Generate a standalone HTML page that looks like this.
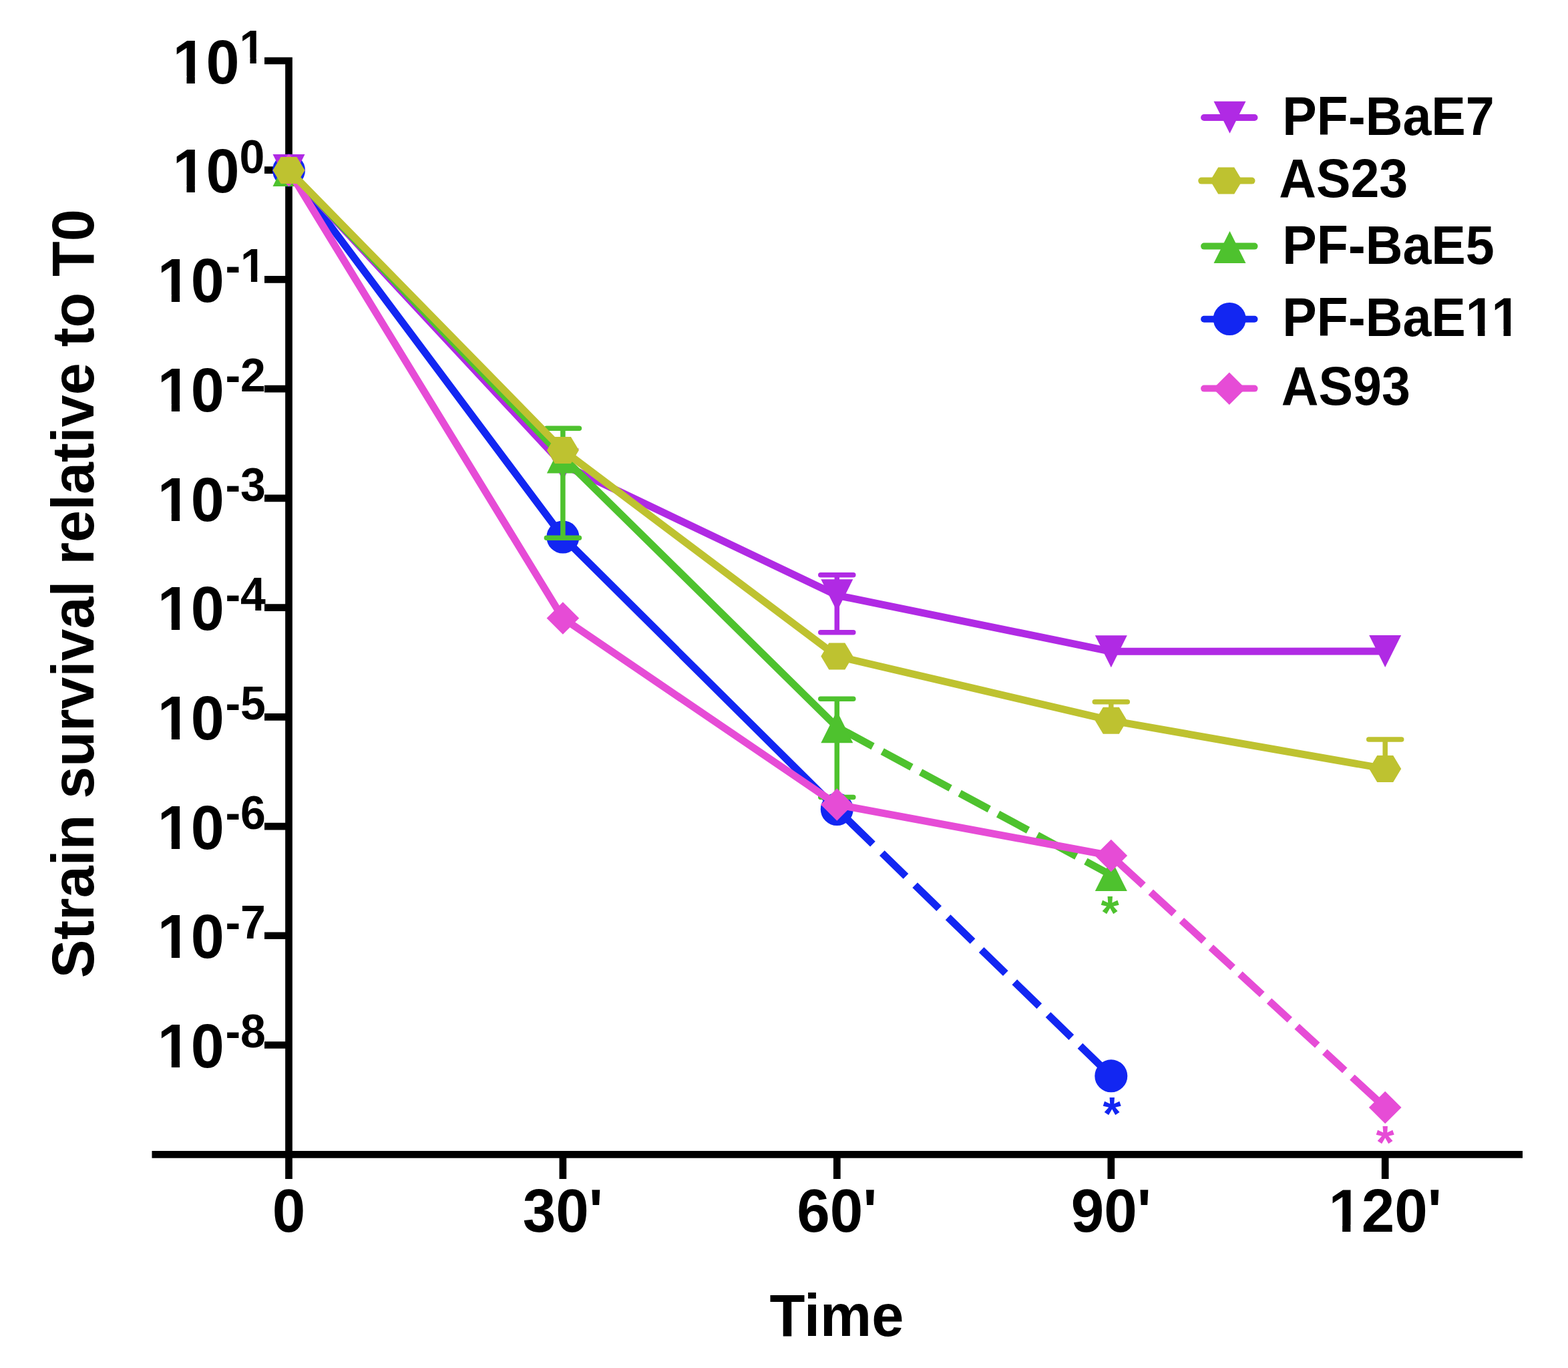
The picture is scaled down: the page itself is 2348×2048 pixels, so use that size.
<!DOCTYPE html>
<html><head><meta charset="utf-8"><title>Strain survival relative to T0</title>
<style>html,body{margin:0;padding:0;background:#fff;}svg{display:block;}</style></head>
<body>
<svg width="2348" height="2048" viewBox="0 0 2348 2048" font-family='"Liberation Sans", Arial, Helvetica, sans-serif' font-weight="bold"><defs><clipPath id="ct0"><path clip-rule="evenodd" d="M0 0 H2348 V2048 H0 Z M262.17 113.84 H279.51 V127.20 H262.17 Z M291.85 113.84 H308.05 V127.20 H291.85 Z"/></clipPath><clipPath id="ct1"><path clip-rule="evenodd" d="M0 0 H2348 V2048 H0 Z M360.88 86.45 H374.47 V97.50 H360.88 Z M383.80 86.45 H396.53 V97.50 H383.80 Z"/></clipPath><clipPath id="ct2"><path clip-rule="evenodd" d="M0 0 H2348 V2048 H0 Z M262.17 277.56 H279.51 V290.92 H262.17 Z M291.85 277.56 H308.05 V290.92 H291.85 Z"/></clipPath><clipPath id="ct3"><path clip-rule="evenodd" d="M0 0 H2348 V2048 H0 Z M239.47 441.28 H256.81 V454.64 H239.47 Z M269.15 441.28 H285.35 V454.64 H269.15 Z"/></clipPath><clipPath id="ct4"><path clip-rule="evenodd" d="M0 0 H2348 V2048 H0 Z M362.31 413.89 H375.90 V424.94 H362.31 Z M385.23 413.89 H397.95 V424.94 H385.23 Z"/></clipPath><clipPath id="ct5"><path clip-rule="evenodd" d="M0 0 H2348 V2048 H0 Z M239.47 605.00 H256.81 V618.36 H239.47 Z M269.15 605.00 H285.35 V618.36 H269.15 Z"/></clipPath><clipPath id="ct6"><path clip-rule="evenodd" d="M0 0 H2348 V2048 H0 Z M239.47 768.72 H256.81 V782.08 H239.47 Z M269.15 768.72 H285.35 V782.08 H269.15 Z"/></clipPath><clipPath id="ct7"><path clip-rule="evenodd" d="M0 0 H2348 V2048 H0 Z M239.47 932.44 H256.81 V945.80 H239.47 Z M269.15 932.44 H285.35 V945.80 H269.15 Z"/></clipPath><clipPath id="ct8"><path clip-rule="evenodd" d="M0 0 H2348 V2048 H0 Z M239.47 1096.16 H256.81 V1109.52 H239.47 Z M269.15 1096.16 H285.35 V1109.52 H269.15 Z"/></clipPath><clipPath id="ct9"><path clip-rule="evenodd" d="M0 0 H2348 V2048 H0 Z M239.47 1259.88 H256.81 V1273.24 H239.47 Z M269.15 1259.88 H285.35 V1273.24 H269.15 Z"/></clipPath><clipPath id="ct10"><path clip-rule="evenodd" d="M0 0 H2348 V2048 H0 Z M239.47 1423.60 H256.81 V1436.96 H239.47 Z M269.15 1423.60 H285.35 V1436.96 H269.15 Z"/></clipPath><clipPath id="ct11"><path clip-rule="evenodd" d="M0 0 H2348 V2048 H0 Z M239.47 1587.32 H256.81 V1600.68 H239.47 Z M269.15 1587.32 H285.35 V1600.68 H269.15 Z"/></clipPath><clipPath id="ct12"><path clip-rule="evenodd" d="M0 0 H2348 V2048 H0 Z M1992.99 1833.75 H2010.15 V1847.00 H1992.99 Z M2022.36 1833.75 H2038.40 V1847.00 H2022.36 Z"/></clipPath><clipPath id="ct13"><path clip-rule="evenodd" d="M0 0 H2348 V2048 H0 Z M2197.71 493.29 H2212.86 V505.50 H2197.71 Z M2223.46 493.29 H2251.54 V505.50 H2223.46 Z M2262.13 493.29 H2276.30 V505.50 H2262.13 Z"/></clipPath></defs><rect width="100%" height="100%" fill="#fff"/><g stroke="#000" stroke-width="10.7" fill="none" stroke-linecap="butt" stroke-linejoin="miter">
<path d="M396 91.00 H432.5 V1765"/>
<path d="M396 254.72 H432.5"/>
<path d="M396 418.44 H432.5"/>
<path d="M396 582.16 H432.5"/>
<path d="M396 745.88 H432.5"/>
<path d="M396 909.60 H432.5"/>
<path d="M396 1073.32 H432.5"/>
<path d="M396 1237.04 H432.5"/>
<path d="M396 1400.76 H432.5"/>
<path d="M396 1564.48 H432.5"/>
<path d="M227.5 1728.3 H2280"/>
<path d="M842.9 1728.3 V1765"/>
<path d="M1253.3 1728.3 V1765"/>
<path d="M1663.8 1728.3 V1765"/>
<path d="M2074.2 1728.3 V1765"/>
</g>
<g clip-path="url(#ct0)"><text id="t0" x="258.50" y="124.70" font-size="90.0" text-anchor="start" fill="#000" transform="translate(0 124.70) scale(1 1.0300) translate(0 -124.70)">10</text></g>
<g clip-path="url(#ct1)"><text id="t1" x="358.60" y="95.00" font-size="68.0" text-anchor="start" fill="#000" transform="translate(0 95.00) scale(1 1.0300) translate(0 -95.00)">1</text></g>
<g clip-path="url(#ct2)"><text id="t2" x="258.50" y="288.42" font-size="90.0" text-anchor="start" fill="#000" transform="translate(0 288.42) scale(1 1.0300) translate(0 -288.42)">10</text></g>
<text x="358.60" y="258.72" font-size="68.0" text-anchor="start" fill="#000" transform="translate(0 258.72) scale(1 1.0300) translate(0 -258.72)">0</text>
<g clip-path="url(#ct3)"><text id="t3" x="235.80" y="452.14" font-size="90.0" text-anchor="start" fill="#000" transform="translate(0 452.14) scale(1 1.0300) translate(0 -452.14)">10</text></g>
<g clip-path="url(#ct4)"><text id="t4" x="337.40" y="422.44" font-size="68.0" text-anchor="start" fill="#000" transform="translate(0 422.44) scale(1 1.0300) translate(0 -422.44)">-1</text></g>
<g clip-path="url(#ct5)"><text id="t5" x="235.80" y="615.86" font-size="90.0" text-anchor="start" fill="#000" transform="translate(0 615.86) scale(1 1.0300) translate(0 -615.86)">10</text></g>
<text x="337.40" y="586.16" font-size="68.0" text-anchor="start" fill="#000" transform="translate(0 586.16) scale(1 1.0300) translate(0 -586.16)">-2</text>
<g clip-path="url(#ct6)"><text id="t6" x="235.80" y="779.58" font-size="90.0" text-anchor="start" fill="#000" transform="translate(0 779.58) scale(1 1.0300) translate(0 -779.58)">10</text></g>
<text x="337.40" y="749.88" font-size="68.0" text-anchor="start" fill="#000" transform="translate(0 749.88) scale(1 1.0300) translate(0 -749.88)">-3</text>
<g clip-path="url(#ct7)"><text id="t7" x="235.80" y="943.30" font-size="90.0" text-anchor="start" fill="#000" transform="translate(0 943.30) scale(1 1.0300) translate(0 -943.30)">10</text></g>
<text x="337.40" y="913.60" font-size="68.0" text-anchor="start" fill="#000" transform="translate(0 913.60) scale(1 1.0300) translate(0 -913.60)">-4</text>
<g clip-path="url(#ct8)"><text id="t8" x="235.80" y="1107.02" font-size="90.0" text-anchor="start" fill="#000" transform="translate(0 1107.02) scale(1 1.0300) translate(0 -1107.02)">10</text></g>
<text x="337.40" y="1077.32" font-size="68.0" text-anchor="start" fill="#000" transform="translate(0 1077.32) scale(1 1.0300) translate(0 -1077.32)">-5</text>
<g clip-path="url(#ct9)"><text id="t9" x="235.80" y="1270.74" font-size="90.0" text-anchor="start" fill="#000" transform="translate(0 1270.74) scale(1 1.0300) translate(0 -1270.74)">10</text></g>
<text x="337.40" y="1241.04" font-size="68.0" text-anchor="start" fill="#000" transform="translate(0 1241.04) scale(1 1.0300) translate(0 -1241.04)">-6</text>
<g clip-path="url(#ct10)"><text id="t10" x="235.80" y="1434.46" font-size="90.0" text-anchor="start" fill="#000" transform="translate(0 1434.46) scale(1 1.0300) translate(0 -1434.46)">10</text></g>
<text x="337.40" y="1404.76" font-size="68.0" text-anchor="start" fill="#000" transform="translate(0 1404.76) scale(1 1.0300) translate(0 -1404.76)">-7</text>
<g clip-path="url(#ct11)"><text id="t11" x="235.80" y="1598.18" font-size="90.0" text-anchor="start" fill="#000" transform="translate(0 1598.18) scale(1 1.0300) translate(0 -1598.18)">10</text></g>
<text x="337.40" y="1568.48" font-size="68.0" text-anchor="start" fill="#000" transform="translate(0 1568.48) scale(1 1.0300) translate(0 -1568.48)">-8</text>
<text x="432.50" y="1844.50" font-size="89" text-anchor="middle" fill="#000" transform="translate(0 1844.50) scale(1 1.0300) translate(0 -1844.50)">0</text>
<text x="842.90" y="1844.50" font-size="89" text-anchor="middle" fill="#000" transform="translate(0 1844.50) scale(1 1.0300) translate(0 -1844.50)">30'</text>
<text x="1253.30" y="1844.50" font-size="89" text-anchor="middle" fill="#000" transform="translate(0 1844.50) scale(1 1.0300) translate(0 -1844.50)">60'</text>
<text x="1663.80" y="1844.50" font-size="89" text-anchor="middle" fill="#000" transform="translate(0 1844.50) scale(1 1.0300) translate(0 -1844.50)">90'</text>
<g clip-path="url(#ct12)"><text id="t12" x="2074.20" y="1844.50" font-size="89" text-anchor="middle" fill="#000" transform="translate(0 1844.50) scale(1 1.0300) translate(0 -1844.50)">120'</text></g>
<text x="1253.00" y="2000.30" font-size="86.7" text-anchor="middle" fill="#000" transform="translate(0 2000.30) scale(1 1.0350) translate(0 -2000.30)">Time</text>
<g transform="translate(140.1 888.7) rotate(-90)">
<text x="0" y="0" font-size="86.3" text-anchor="middle" transform="scale(1 1.025)">Strain survival relative to T0</text>
</g>
<g>
<path d="M1253.30 1211.50 L1663.80 1610.80" stroke="#1226F2" stroke-width="11" fill="none" stroke-dasharray="74.80 19.40 49.70 19.10 50.20 18.80 51.50 18.30 50.50 18.80 51.60 18.50 48.50 18.30 114.67 0.00"/>
<path d="M432.50 255.00 L842.90 804.00 L1253.30 1211.50" stroke="#1226F2" stroke-width="11" fill="none" stroke-linejoin="round"/>
<circle cx="432.50" cy="255.00" r="24.50" fill="#1226F2"/>
<circle cx="842.90" cy="804.00" r="24.50" fill="#1226F2"/>
<circle cx="1253.30" cy="1211.50" r="24.50" fill="#1226F2"/>
<circle cx="1663.80" cy="1610.80" r="24.50" fill="#1226F2"/>
</g>
<g>
<path d="M432.50 255.00 L842.90 695.50 L1253.30 891.30 L1663.80 975.30 L2074.20 975.10" stroke="#B02AE4" stroke-width="11" fill="none" stroke-linejoin="round"/>
<path d="M1253.30 860.80 V946.70" stroke="#B02AE4" stroke-width="7.5" fill="none"/>
<path d="M1228.80 860.80 H1277.80" stroke="#B02AE4" stroke-width="7.5" stroke-linecap="round" fill="none"/>
<path d="M1228.80 946.70 H1277.80" stroke="#B02AE4" stroke-width="7.5" stroke-linecap="round" fill="none"/>
<path d="M408.50 231.00 H456.50 L432.50 279.00 Z" fill="#B02AE4"/>
<path d="M818.90 671.50 H866.90 L842.90 719.50 Z" fill="#B02AE4"/>
<path d="M1229.30 867.30 H1277.30 L1253.30 915.30 Z" fill="#B02AE4"/>
<path d="M1639.80 951.30 H1687.80 L1663.80 999.30 Z" fill="#B02AE4"/>
<path d="M2050.20 951.10 H2098.20 L2074.20 999.10 Z" fill="#B02AE4"/>
</g>
<g>
<path d="M1253.30 1088.30 L1663.80 1310.00" stroke="#4EC22E" stroke-width="11" fill="none" stroke-dasharray="61.10 16.10 49.80 15.40 50.60 15.90 50.20 15.10 51.10 15.60 66.60 15.90 93.14 0.00"/>
<path d="M432.50 255.00 L842.90 684.50 L1253.30 1088.30" stroke="#4EC22E" stroke-width="11" fill="none" stroke-linejoin="round"/>
<path d="M842.90 641.20 V805.30" stroke="#4EC22E" stroke-width="7.5" fill="none"/>
<path d="M818.40 641.20 H867.40" stroke="#4EC22E" stroke-width="7.5" stroke-linecap="round" fill="none"/>
<path d="M818.40 805.30 H867.40" stroke="#4EC22E" stroke-width="7.5" stroke-linecap="round" fill="none"/>
<path d="M1253.30 1046.20 V1193.50" stroke="#4EC22E" stroke-width="7.5" fill="none"/>
<path d="M1228.80 1046.20 H1277.80" stroke="#4EC22E" stroke-width="7.5" stroke-linecap="round" fill="none"/>
<path d="M1228.80 1193.50 H1277.80" stroke="#4EC22E" stroke-width="7.5" stroke-linecap="round" fill="none"/>
<path d="M408.50 279.00 H456.50 L432.50 231.00 Z" fill="#4EC22E"/>
<path d="M818.90 708.50 H866.90 L842.90 660.50 Z" fill="#4EC22E"/>
<path d="M1229.30 1112.30 H1277.30 L1253.30 1064.30 Z" fill="#4EC22E"/>
<path d="M1639.80 1334.00 H1687.80 L1663.80 1286.00 Z" fill="#4EC22E"/>
</g>
<g>
<path d="M1663.80 1281.00 L2074.20 1658.00" stroke="#E64CD6" stroke-width="11" fill="none" stroke-dasharray="65.40 15.30 47.40 15.20 45.40 14.30 44.70 14.50 44.80 14.50 41.70 14.80 41.50 14.90 40.80 15.10 116.98 0.00"/>
<path d="M432.50 255.00 L842.90 925.50 L1253.30 1204.50 L1663.80 1281.00" stroke="#E64CD6" stroke-width="11" fill="none" stroke-linejoin="round"/>
<path d="M408.20 255.00 L432.50 230.70 L456.80 255.00 L432.50 279.30 Z" fill="#E64CD6"/>
<path d="M818.60 925.50 L842.90 901.20 L867.20 925.50 L842.90 949.80 Z" fill="#E64CD6"/>
<path d="M1229.00 1204.50 L1253.30 1180.20 L1277.60 1204.50 L1253.30 1228.80 Z" fill="#E64CD6"/>
<path d="M1639.50 1281.00 L1663.80 1256.70 L1688.10 1281.00 L1663.80 1305.30 Z" fill="#E64CD6"/>
<path d="M2049.90 1658.00 L2074.20 1633.70 L2098.50 1658.00 L2074.20 1682.30 Z" fill="#E64CD6"/>
</g>
<g>
<path d="M432.50 255.00 L842.90 674.00 L1253.30 982.40 L1663.80 1078.70 L2074.20 1150.90" stroke="#BEC230" stroke-width="11" fill="none" stroke-linejoin="round"/>
<path d="M1663.80 1050.80 V1078.70" stroke="#BEC230" stroke-width="7.5" fill="none"/>
<path d="M1639.30 1050.80 H1688.30" stroke="#BEC230" stroke-width="7.5" stroke-linecap="round" fill="none"/>
<path d="M2074.20 1107.00 V1150.90" stroke="#BEC230" stroke-width="7.5" fill="none"/>
<path d="M2049.70 1107.00 H2098.70" stroke="#BEC230" stroke-width="7.5" stroke-linecap="round" fill="none"/>
<path d="M408.50 255.00 L420.50 235.00 H444.50 L456.50 255.00 L444.50 275.00 H420.50 Z" fill="#BEC230"/>
<path d="M818.90 674.00 L830.90 654.00 H854.90 L866.90 674.00 L854.90 694.00 H830.90 Z" fill="#BEC230"/>
<path d="M1229.30 982.40 L1241.30 962.40 H1265.30 L1277.30 982.40 L1265.30 1002.40 H1241.30 Z" fill="#BEC230"/>
<path d="M1639.80 1078.70 L1651.80 1058.70 H1675.80 L1687.80 1078.70 L1675.80 1098.70 H1651.80 Z" fill="#BEC230"/>
<path d="M2050.20 1150.90 L2062.20 1130.90 H2086.20 L2098.20 1150.90 L2086.20 1170.90 H2062.20 Z" fill="#BEC230"/>
</g>
<text x="1662.10" y="1390.85" font-size="70" text-anchor="middle" fill="#4EC22E">*</text>
<text x="1665.20" y="1692.15" font-size="70" text-anchor="middle" fill="#1226F2">*</text>
<text x="2074.00" y="1734.55" font-size="70" text-anchor="middle" fill="#E64CD6">*</text>
<path d="M1803.10 176.00 H1878.50" stroke="#B02AE4" stroke-width="10" stroke-linecap="round"/>
<path d="M1817.50 151.80 H1865.50 L1841.50 199.80 Z" fill="#B02AE4"/>
<text x="1920.34" y="201.80" font-size="77.2" text-anchor="start" fill="#000" transform="translate(0 201.80) scale(1 1.0550) translate(0 -201.80)">PF-BaE7</text>
<path d="M1799.20 270.60 H1874.50" stroke="#BEC230" stroke-width="10" stroke-linecap="round"/>
<path d="M1812.20 270.50 L1824.20 250.50 H1848.20 L1860.20 270.50 L1848.20 290.50 H1824.20 Z" fill="#BEC230"/>
<text x="1915.18" y="294.80" font-size="77.2" text-anchor="start" fill="#000" transform="translate(0 294.80) scale(1 1.0550) translate(0 -294.80)">AS23</text>
<path d="M1803.10 368.60 H1878.50" stroke="#4EC22E" stroke-width="10" stroke-linecap="round"/>
<path d="M1817.50 394.00 H1865.50 L1841.50 346.00 Z" fill="#4EC22E"/>
<text x="1920.34" y="394.60" font-size="77.2" text-anchor="start" fill="#000" transform="translate(0 394.60) scale(1 1.0550) translate(0 -394.60)">PF-BaE5</text>
<path d="M1803.10 477.80 H1878.50" stroke="#1226F2" stroke-width="10" stroke-linecap="round"/>
<circle cx="1841.20" cy="477.50" r="24.50" fill="#1226F2"/>
<g clip-path="url(#ct13)"><text id="t13" x="1920.34" y="503.00" font-size="77.2" text-anchor="start" fill="#000" transform="translate(0 503.00) scale(1 1.0550) translate(0 -503.00)">PF-BaE11</text></g>
<path d="M1803.10 581.60 H1878.50" stroke="#E64CD6" stroke-width="10" stroke-linecap="round"/>
<path d="M1816.50 581.70 L1840.80 557.40 L1865.10 581.70 L1840.80 606.00 Z" fill="#E64CD6"/>
<text x="1918.88" y="605.60" font-size="77.2" text-anchor="start" fill="#000" transform="translate(0 605.60) scale(1 1.0550) translate(0 -605.60)">AS93</text></svg>
</body></html>
